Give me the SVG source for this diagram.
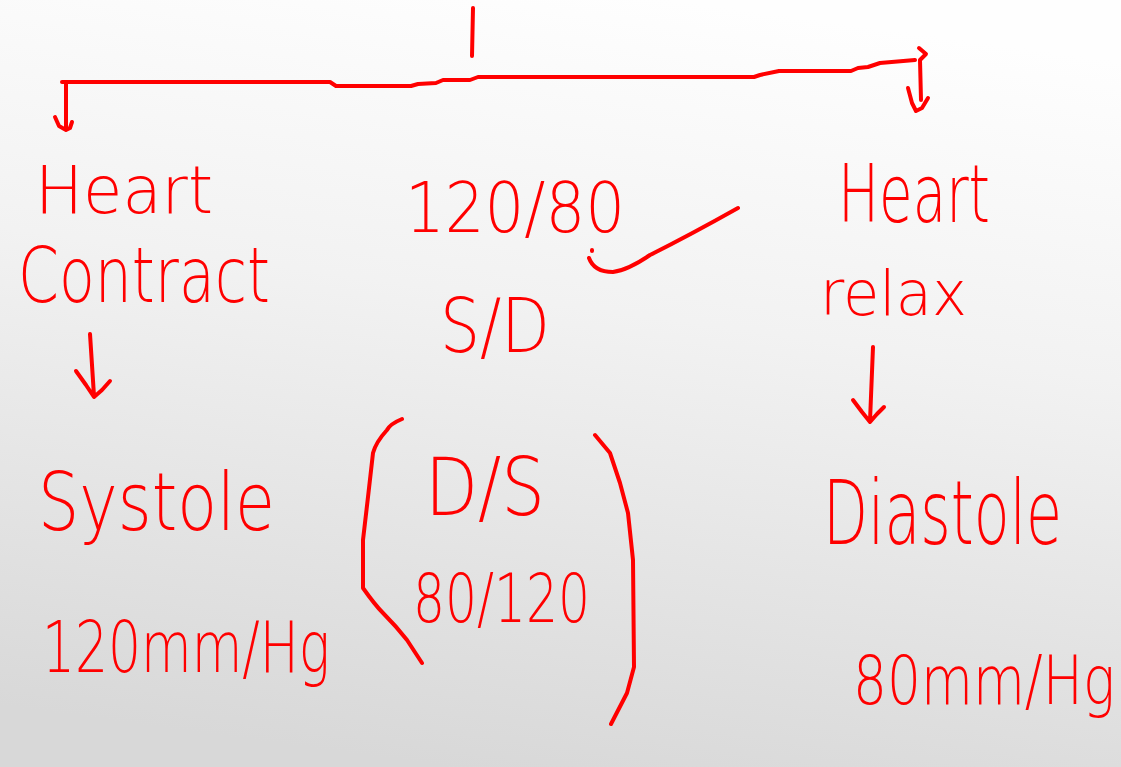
<svg xmlns="http://www.w3.org/2000/svg" width="1121" height="767" viewBox="0 0 1121 767">
  <defs>
    <linearGradient id="bg" x1="0.6" y1="0" x2="0.4" y2="1">
      <stop offset="0" stop-color="#fefefe"/>
      <stop offset="0.4" stop-color="#f2f2f2"/>
      <stop offset="1" stop-color="#d8d8d8"/>
    </linearGradient>
    <style>
      .t { font-family: "DejaVu Sans", "Liberation Sans", sans-serif; font-weight: 200; fill: #ff0000; }
      .ln { fill: none; stroke: #ff0000; stroke-width: 4; stroke-linecap: round; stroke-linejoin: round; }
    </style>
  </defs>
  <rect x="0" y="0" width="1121" height="767" fill="url(#bg)"/>

  <g id="connectors">
    <path class="ln" d="M473,8 L472,56"/>
    <path class="ln" d="M62,82 L330,82 L336,86 L411,86 L418,84 L436,83 L443,80 L470,80 L478,77 L754,77 L760,75 L779,71 L851,71 L858,68 L868,67 L880,63 L915,60"/>
    <path class="ln" d="M66,82 L66,130 M55,117 L59,126 L66,130 L70,128 L72,122"/>
    <path class="ln" d="M919,48 L926,54 L920,60 L921,100 M908,88 L912,103 L916,111 L922,108 L928,98"/>
    <path class="ln" d="M90,334 L94,396 M76,371 L86,385 L94,397 L102,390 L110,381"/>
    <path class="ln" d="M873,347 L870,421 M853,400 L862,412 L870,422 L877,414 L884,407"/>
    <path class="ln" d="M592,250 L592,251 M589,258 Q594,272 613,272 Q628,270 650,255 Q690,235 738,208"/>
    <path class="ln" d="M402,419 Q390,424 387,430 Q376,442 373,453 L368,497 L363,540 L363,588 Q375,605 383,613 Q396,626 407,640 L422,663"/>
    <path class="ln" d="M595,435 L610,453 L620,483 L628,513 L633,560 L634,667 L627,693 L611,724"/>
  </g>

  <g id="node-heart-contract">
    <text class="t" x="35" y="213" font-size="66" textLength="178" lengthAdjust="spacingAndGlyphs">Heart</text>
    <text class="t" x="18" y="302" font-size="76" textLength="252" lengthAdjust="spacingAndGlyphs">Contract</text>
  </g>
  <g id="node-systole">
    <text class="t" x="38" y="530" font-size="80" textLength="237" lengthAdjust="spacingAndGlyphs">Systole</text>
    <text class="t" x="42" y="672" font-size="72" textLength="288" lengthAdjust="spacingAndGlyphs">120mm/Hg</text>
  </g>
  <g id="node-bp">
    <text class="t" x="405" y="232" font-size="70" textLength="220" lengthAdjust="spacingAndGlyphs">120/80</text>
    <text class="t" x="440" y="352" font-size="74" textLength="110" lengthAdjust="spacingAndGlyphs">S/D</text>
  </g>
  <g id="node-ds">
    <text class="t" x="425" y="515" font-size="80" textLength="120" lengthAdjust="spacingAndGlyphs">D/S</text>
    <text class="t" x="413" y="622" font-size="68" textLength="177" lengthAdjust="spacingAndGlyphs">80/120</text>
  </g>
  <g id="node-heart-relax">
    <text class="t" x="838" y="222" font-size="80" textLength="152" lengthAdjust="spacingAndGlyphs">Heart</text>
    <text class="t" x="820" y="315" font-size="62" textLength="147" lengthAdjust="spacingAndGlyphs">relax</text>
  </g>
  <g id="node-diastole">
    <g transform="translate(823,544) scale(1,1.55)">
      <text class="t" x="0" y="0" font-size="58" textLength="239" lengthAdjust="spacingAndGlyphs">Diastole</text>
    </g>
    <g transform="translate(853,704) scale(1,1.3)">
      <text class="t" x="0" y="0" font-size="52" textLength="262" lengthAdjust="spacingAndGlyphs">80mm/Hg</text>
    </g>
  </g>
</svg>
